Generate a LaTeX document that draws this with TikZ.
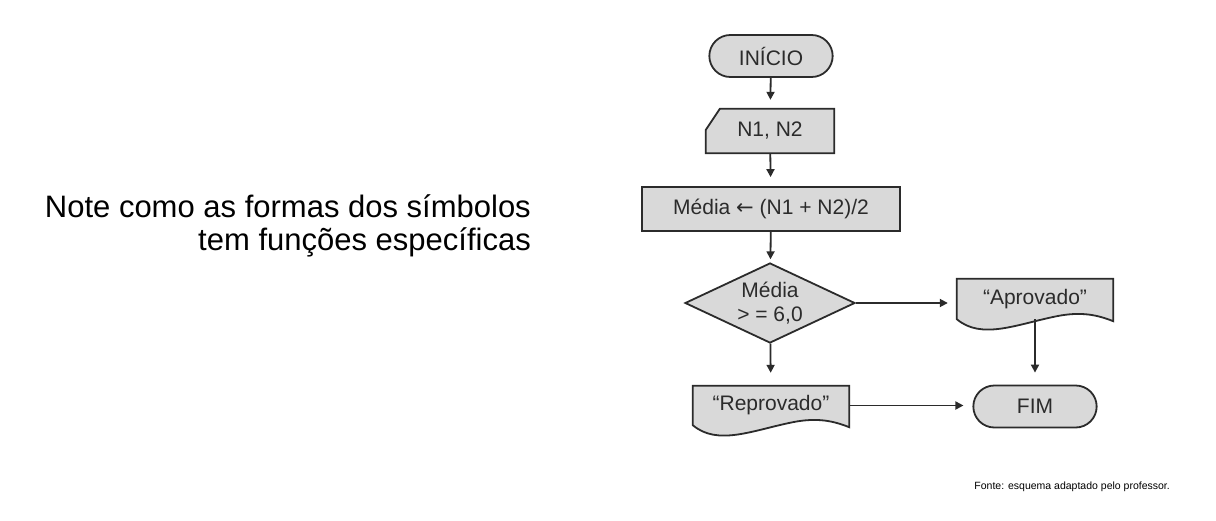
\documentclass[tikz,border=0pt]{standalone}
\usepackage{fontspec}
\setmainfont{Liberation Sans}
\newfontfamily\arrowfont{DejaVu Sans}
\usetikzlibrary{shapes.geometric,shapes.misc,backgrounds,calc,arrows.meta}
\definecolor{boxgray}{HTML}{D9D9D9}
\definecolor{inkgray}{HTML}{2B2B2B}
\begin{document}
\begin{tikzpicture}[x=1pt, y=-1pt, every node/.style={align=center,text=inkgray,font=\fontsize{21}{24}\selectfont}, shapeline/.style={draw=inkgray,line width=1.8pt,fill=boxgray}, term/.style={shapeline,rounded rectangle,minimum width=130pt,minimum height=42pt}, proc/.style={shapeline,rectangle,minimum width=258pt,minimum height=44pt}, decis/.style={shapeline,diamond,aspect=2.1,inner sep=0pt,minimum width=170pt,minimum height=80pt}, bare/.style={rectangle,inner sep=0pt}, flow/.style={draw=inkgray,line width=1.8pt,-{Triangle[length=8pt,width=8pt]},shorten >=9pt}]
		\useasboundingbox (0,0) rectangle (1216,520);
		% texto a esquerda
		\node[bare,anchor=east,align=right,text=black,font=\fontsize{31}{33}\selectfont] (note) at (531,226) {Note como as formas dos símbolos\\tem funções específicas};
		% fluxograma
		\node[term] (ini) at (771,56) {INÍCIO};
		\node[bare,minimum width=128pt,minimum height=44pt] (inp) at (770,131) {N1, N2};
		\node[proc] (avg) at (771,209) {Média {\arrowfont\fontsize{21}{24}\selectfont ←} (N1 + N2)/2};
		\node[decis] (dec) at (770,303) {Média\\> = 6,0};
		\node[bare,minimum width=156pt,minimum height=40pt] (apr) at (1035,299) {“Aprovado”};
		\node[bare,minimum width=156pt,minimum height=39pt] (rep) at (771,405.5) {“Reprovado”};
		\node[term] (fim) at (1035,406.5) {FIM};
		\begin{scope}[on background layer]
			\filldraw[shapeline] ($(inp.north west)+(14,0)$) -- (inp.north east) -- (inp.south east) -- (inp.south west) -- ($(inp.north west)+(0,21)$) -- cycle;
			\filldraw[shapeline] (apr.north east) -- (apr.north west) -- (apr.south west) .. controls +(25,21) and +(-40,8) .. ($(apr.south west)+(100,-3)$) .. controls +(25,-5) and +(-15,-6) .. ($(apr.south east)+(0,2)$) -- cycle;
			\filldraw[shapeline] (rep.north east) -- (rep.north west) -- (rep.south west) .. controls +(25,21) and +(-40,8) .. ($(rep.south west)+(100,-3)$) .. controls +(25,-5) and +(-15,-6) .. ($(rep.south east)+(0,2)$) -- cycle;
		\end{scope}
		\draw[flow] (ini) -- (inp);
		\draw[flow] (inp) -- (avg);
		\draw[flow,shorten >=3pt] (avg) -- (dec);
		\draw[flow,shorten >=13pt] (dec) -- (rep);
		\draw[flow] (dec.east) -- (dec.east -| apr.west);
		\draw[flow,shorten >=12pt] (apr.south) -- (fim.north);
		\draw[flow] (rep.east) -- (rep.east -| fim.west);
		% fonte
		\node[bare,anchor=base east,text=black,font=\fontsize{10.5}{12}\selectfont] (src) at (1170,489) {Fonte: esquema adaptado pelo professor.};
\end{tikzpicture}
\end{document}
